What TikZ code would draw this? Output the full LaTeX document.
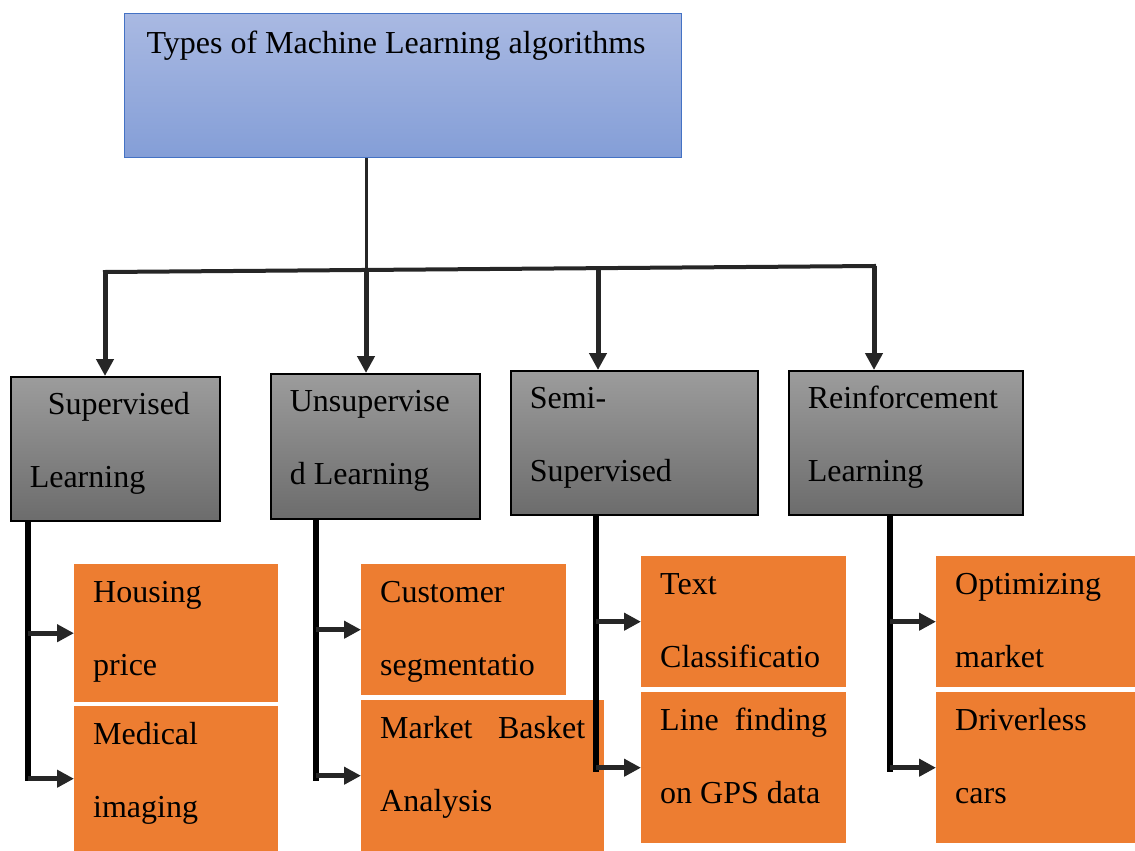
\documentclass[tikz,border=0pt]{standalone}
\usepackage{fontspec}
\setmainfont{Liberation Serif}
\usepackage{tikz}
\usetikzlibrary{arrows.meta}

\definecolor{titleedge}{HTML}{4472C4}
\definecolor{titletop}{HTML}{A9B9E2}
\definecolor{titlebot}{HTML}{849ED7}
\definecolor{kindtop}{HTML}{9C9C9C}
\definecolor{kindbot}{HTML}{6C6C6C}
\definecolor{leaforange}{HTML}{ED7D31}
\definecolor{linkgray}{HTML}{262626}

\tikzset{
  every node/.style={font=\fontsize{32}{73}\selectfont,
    inner xsep=19pt, inner ysep=0pt, text height=38pt, align=flush left, anchor=north west},
  title/.style={top color=titletop, bottom color=titlebot, draw=titleedge, line width=1.2pt},
  kind/.style={top color=kindtop, bottom color=kindbot, draw=black, line width=1.5pt},
  usecase/.style={fill=leaforange},
  stem/.style={line width=3pt, color=linkgray},
  bar/.style={line width=4pt, color=linkgray, line cap=rect},
  drop/.style={line width=5pt, color=linkgray, ->},
  trunk/.style={line width=6pt, color=black},
  branch/.style={line width=5pt, color=linkgray, ->}
}

\begin{document}
\begin{tikzpicture}[x=1pt, y=-1pt, >={Triangle[length=17pt,width=17pt]}]
\useasboundingbox (0,0) rectangle (1135,851);
% root
\node[title, text width=513pt, inner xsep=22pt, text height=40pt, text depth=104pt] (ml) at (124,13) {Types of Machine Learning algorithms};
% kinds of learning
\node[kind, text width=171pt, text depth=106pt] (sl) at (10,376) {\hspace*{18pt}Supervised\\Learning};
\node[kind, text width=171pt, text depth=107pt] (ul) at (270,373) {Unsupervise\\d Learning};
\node[kind, text width=209pt, text depth=106pt] (ss) at (510,370) {Semi-\\Supervised};
\node[kind, text width=196pt, text depth=106pt] (rl) at (788,370) {Reinforcement\\Learning};
% use cases
\node[usecase, text width=166pt, text depth=100pt] (hp) at (74,564) {Housing\\price};
\node[usecase, text width=166pt, text depth=107pt] (mi) at (74,706) {Medical\\imaging};
\node[usecase, text width=167pt, text depth=93pt] (cs) at (361,564) {Customer\\segmentatio};
\node[usecase, text width=205pt, text depth=113pt] (mb) at (361,700) {Market\hfill Basket\\Analysis};
\node[usecase, text width=167pt, text depth=93pt] (tc) at (641,556) {Text\\Classificatio};
\node[usecase, text width=167pt, text depth=113pt] (lf) at (641,692) {Line\hfill finding\\on GPS data};
\node[usecase, text width=161pt, text depth=93pt] (om) at (936,556) {Optimizing\\market};
\node[usecase, text width=161pt, text depth=113pt] (dc) at (936,692) {Driverless\\cars};
% root to kinds
\coordinate (b1) at (105,272);
\coordinate (b2) at (366,270);
\coordinate (b3) at (598,268);
\coordinate (b4) at (874,266);
\draw[stem] (b2 |- ml.south) -- (b2);
\draw[bar] (b1) -- (b4);
\foreach \b/\k in {b1/sl,b2/ul,b3/ss,b4/rl}
  \draw[drop] (\b) -- (\b |- \k.north);
% kinds to use cases
\coordinate (t1) at (28,781);
\coordinate (t2) at (316,781);
\coordinate (t3) at (596,772);
\coordinate (t4) at (890,772);
\foreach \t/\k/\u/\v in {t1/sl/hp/mi, t2/ul/cs/mb, t3/ss/tc/lf, t4/rl/om/dc} {
  \draw[trunk] (\t |- \k.south) -- (\t);
  \draw[branch] (\t |- \u.west) -- (\u.west);
  \draw[branch] (\t |- \v.west) -- (\v.west);
}
\end{tikzpicture}
\end{document}
